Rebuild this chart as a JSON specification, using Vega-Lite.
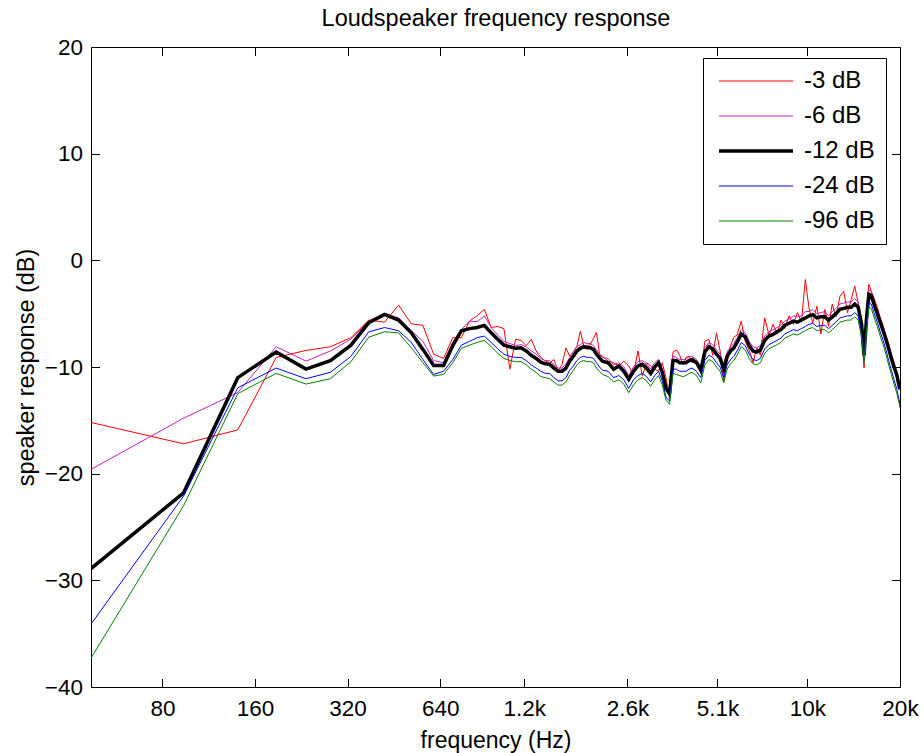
{
"$schema": "https://vega.github.io/schema/vega-lite/v6.json",
"autosize": "none",
"padding": {"left": 91, "top": 47, "right": 24, "bottom": 66},
"width": 809,
"height": 640,
"background": "white",
"config": {"view": {"stroke": null}, "font": "Liberation Sans", "axis": {"grid": false, "domainColor": "black", "domainWidth": 1, "tickColor": "black", "tickWidth": 1, "labelColor": "black", "titleColor": "black", "titleFontWeight": "normal", "labelFont": "Liberation Sans", "titleFont": "Liberation Sans"}},
"data": {"values": [
{"f":46.875,"n3":-15.2,"n6":-19.6,"n12":-28.9,"n24":-34.1,"n96":-37.3},
{"f":93.75,"n3":-17.2,"n6":-14.8,"n12":-21.8,"n24":-22.1,"n96":-23.0},
{"f":140.625,"n3":-15.9,"n6":-12.4,"n12":-11.0,"n24":-11.95,"n96":-12.5},
{"f":187.5,"n3":-9.1,"n6":-8.1,"n12":-8.6,"n24":-10.1,"n96":-10.6},
{"f":234.375,"n3":-8.45,"n6":-9.45,"n12":-10.2,"n24":-11.1,"n96":-11.6},
{"f":281.25,"n3":-8.1,"n6":-8.5,"n12":-9.4,"n24":-10.5,"n96":-11.1},
{"f":328.125,"n3":-7.25,"n6":-7.4,"n12":-7.95,"n24":-9.0,"n96":-9.5},
{"f":375,"n3":-5.6,"n6":-5.7,"n12":-5.85,"n24":-6.7,"n96":-7.2},
{"f":421.875,"n3":-5.8,"n6":-5.0,"n12":-5.07,"n24":-6.3,"n96":-6.7},
{"f":468.75,"n3":-4.2,"n6":-5.4,"n12":-5.6,"n24":-6.6,"n96":-6.8},
{"f":515.625,"n3":-5.95,"n6":-6.6,"n12":-6.8,"n24":-7.7,"n96":-8.2},
{"f":562.5,"n3":-6.1,"n6":-7.6,"n12":-8.35,"n24":-9.3,"n96":-9.6},
{"f":609.375,"n3":-8.8,"n6":-9.4,"n12":-9.85,"n24":-10.7,"n96":-10.85},
{"f":656.25,"n3":-9.2,"n6":-9.6,"n12":-9.85,"n24":-10.4,"n96":-10.7},
{"f":703.125,"n3":-7.25,"n6":-7.7,"n12":-8.0,"n24":-9.3,"n96":-9.6},
{"f":750,"n3":-7.25,"n6":-6.5,"n12":-6.6,"n24":-7.95,"n96":-8.25},
{"f":796.875,"n3":-5.7,"n6":-5.7,"n12":-6.4,"n24":-7.6,"n96":-7.95},
{"f":843.75,"n3":-5.2,"n6":-5.75,"n12":-6.3,"n24":-7.25,"n96":-7.7},
{"f":890.625,"n3":-4.6,"n6":-5.2,"n12":-6.1,"n24":-7.1,"n96":-7.5},
{"f":937.5,"n3":-6.3,"n6":-6.3,"n12":-6.8,"n24":-7.7,"n96":-8.1},
{"f":984.375,"n3":-6.2,"n6":-7.0,"n12":-7.4,"n24":-8.3,"n96":-8.7},
{"f":1031.25,"n3":-6.4,"n6":-7.6,"n12":-7.95,"n24":-8.8,"n96":-9.2},
{"f":1078.125,"n3":-10.2,"n6":-7.8,"n12":-8.1,"n24":-9.0,"n96":-9.4},
{"f":1125,"n3":-7.4,"n6":-8.0,"n12":-8.25,"n24":-9.1,"n96":-9.5},
{"f":1171.875,"n3":-7.5,"n6":-7.9,"n12":-8.2,"n24":-9.1,"n96":-9.5},
{"f":1218.75,"n3":-8.0,"n6":-8.1,"n12":-8.5,"n24":-9.4,"n96":-9.8},
{"f":1265.625,"n3":-7.4,"n6":-8.5,"n12":-8.9,"n24":-9.8,"n96":-10.2},
{"f":1312.5,"n3":-8.5,"n6":-8.8,"n12":-9.2,"n24":-10.1,"n96":-10.5},
{"f":1359.375,"n3":-9.1,"n6":-9.2,"n12":-9.55,"n24":-10.4,"n96":-10.9},
{"f":1406.25,"n3":-9.45,"n6":-9.4,"n12":-9.7,"n24":-10.6,"n96":-11.0},
{"f":1453.125,"n3":-9.6,"n6":-9.4,"n12":-9.75,"n24":-10.6,"n96":-11.1},
{"f":1500,"n3":-9.3,"n6":-9.8,"n12":-10.1,"n24":-11.0,"n96":-11.4},
{"f":1546.875,"n3":-10.4,"n6":-10.1,"n12":-10.4,"n24":-11.3,"n96":-11.7},
{"f":1593.75,"n3":-9.75,"n6":-10.1,"n12":-10.4,"n24":-11.3,"n96":-11.7},
{"f":1640.625,"n3":-8.2,"n6":-9.7,"n12":-10.1,"n24":-11.0,"n96":-11.4},
{"f":1687.5,"n3":-9.0,"n6":-9.1,"n12":-9.45,"n24":-10.3,"n96":-10.8},
{"f":1734.375,"n3":-8.6,"n6":-8.6,"n12":-9.0,"n24":-9.9,"n96":-10.3},
{"f":1781.25,"n3":-8.05,"n6":-8.1,"n12":-8.5,"n24":-9.4,"n96":-9.8},
{"f":1828.125,"n3":-6.65,"n6":-7.9,"n12":-8.25,"n24":-9.1,"n96":-9.5},
{"f":1875,"n3":-8.05,"n6":-7.7,"n12":-8.1,"n24":-9.0,"n96":-9.4},
{"f":1921.875,"n3":-8.0,"n6":-7.8,"n12":-8.2,"n24":-9.1,"n96":-9.5},
{"f":1968.75,"n3":-7.9,"n6":-7.8,"n12":-8.2,"n24":-9.1,"n96":-9.5},
{"f":2015.625,"n3":-7.3,"n6":-8.0,"n12":-8.35,"n24":-9.2,"n96":-9.6},
{"f":2062.5,"n3":-6.75,"n6":-8.4,"n12":-8.8,"n24":-9.6,"n96":-10.1},
{"f":2109.375,"n3":-8.8,"n6":-8.8,"n12":-9.15,"n24":-10.0,"n96":-10.4},
{"f":2156.25,"n3":-9.0,"n6":-9.1,"n12":-9.45,"n24":-10.3,"n96":-10.7},
{"f":2250,"n3":-9.45,"n6":-9.2,"n12":-9.6,"n24":-10.4,"n96":-10.9},
{"f":2343.75,"n3":-9.6,"n6":-9.8,"n12":-10.2,"n24":-11.0,"n96":-11.4},
{"f":2437.5,"n3":-9.9,"n6":-9.6,"n12":-9.9,"n24":-10.8,"n96":-11.2},
{"f":2531.25,"n3":-9.45,"n6":-10.0,"n12":-10.4,"n24":-11.2,"n96":-11.6},
{"f":2625,"n3":-9.9,"n6":-10.8,"n12":-11.15,"n24":-12.0,"n96":-12.4},
{"f":2718.75,"n3":-10.7,"n6":-10.0,"n12":-10.4,"n24":-11.2,"n96":-11.7},
{"f":2812.5,"n3":-8.5,"n6":-9.5,"n12":-9.9,"n24":-10.8,"n96":-11.2},
{"f":2906.25,"n3":-10.85,"n6":-9.4,"n12":-9.75,"n24":-10.6,"n96":-11.0},
{"f":3000,"n3":-9.6,"n6":-9.7,"n12":-10.1,"n24":-10.9,"n96":-11.3},
{"f":3093.75,"n3":-9.9,"n6":-10.2,"n12":-10.6,"n24":-11.4,"n96":-11.8},
{"f":3187.5,"n3":-10.2,"n6":-9.6,"n12":-10.0,"n24":-10.8,"n96":-11.2},
{"f":3281.25,"n3":-10.4,"n6":-9.3,"n12":-9.6,"n24":-10.4,"n96":-10.8},
{"f":3375,"n3":-9.6,"n6":-10.2,"n12":-10.5,"n24":-11.3,"n96":-11.7},
{"f":3468.75,"n3":-11.0,"n6":-11.7,"n12":-12.0,"n24":-12.8,"n96":-13.1},
{"f":3562.5,"n3":-12.9,"n6":-12.3,"n12":-12.5,"n24":-13.2,"n96":-13.5},
{"f":3656.25,"n3":-8.6,"n6":-9.0,"n12":-9.4,"n24":-10.2,"n96":-10.6},
{"f":3750,"n3":-8.4,"n6":-9.1,"n12":-9.4,"n24":-10.2,"n96":-10.7},
{"f":3843.75,"n3":-8.9,"n6":-9.3,"n12":-9.6,"n24":-10.4,"n96":-10.8},
{"f":3937.5,"n3":-9.8,"n6":-9.3,"n12":-9.6,"n24":-10.4,"n96":-10.9},
{"f":4031.25,"n3":-9.1,"n6":-9.3,"n12":-9.6,"n24":-10.4,"n96":-10.8},
{"f":4125,"n3":-9.0,"n6":-9.0,"n12":-9.4,"n24":-10.2,"n96":-10.6},
{"f":4218.75,"n3":-9.6,"n6":-9.0,"n12":-9.3,"n24":-10.1,"n96":-10.5},
{"f":4359.375,"n3":-9.4,"n6":-9.3,"n12":-9.6,"n24":-10.4,"n96":-10.8},
{"f":4500,"n3":-10.6,"n6":-10.0,"n12":-10.3,"n24":-11.0,"n96":-11.5},
{"f":4640.625,"n3":-7.6,"n6":-8.2,"n12":-8.6,"n24":-9.4,"n96":-9.8},
{"f":4781.25,"n3":-7.4,"n6":-7.7,"n12":-8.1,"n24":-8.9,"n96":-9.3},
{"f":4921.875,"n3":-8.9,"n6":-7.9,"n12":-8.3,"n24":-9.1,"n96":-9.5},
{"f":5062.5,"n3":-6.8,"n6":-8.4,"n12":-8.8,"n24":-9.6,"n96":-10.0},
{"f":5203.125,"n3":-8.5,"n6":-8.8,"n12":-9.2,"n24":-10.0,"n96":-10.4},
{"f":5343.75,"n3":-11.3,"n6":-9.8,"n12":-10.2,"n24":-11.0,"n96":-11.5},
{"f":5484.375,"n3":-9.5,"n6":-8.6,"n12":-9.0,"n24":-9.8,"n96":-10.2},
{"f":5625,"n3":-8.0,"n6":-8.1,"n12":-8.5,"n24":-9.3,"n96":-9.7},
{"f":5765.625,"n3":-7.2,"n6":-7.8,"n12":-8.2,"n24":-9.0,"n96":-9.4},
{"f":5906.25,"n3":-7.0,"n6":-7.3,"n12":-7.7,"n24":-8.5,"n96":-8.9},
{"f":6093.75,"n3":-5.7,"n6":-6.5,"n12":-6.9,"n24":-7.7,"n96":-8.1},
{"f":6281.25,"n3":-7.6,"n6":-6.8,"n12":-7.2,"n24":-8.0,"n96":-8.4},
{"f":6468.75,"n3":-8.4,"n6":-7.6,"n12":-8.0,"n24":-8.8,"n96":-9.2},
{"f":6656.25,"n3":-9.6,"n6":-8.1,"n12":-8.5,"n24":-9.3,"n96":-9.7},
{"f":6843.75,"n3":-8.2,"n6":-8.2,"n12":-8.6,"n24":-9.4,"n96":-9.8},
{"f":7031.25,"n3":-8.9,"n6":-8.0,"n12":-8.4,"n24":-9.2,"n96":-9.6},
{"f":7265.625,"n3":-5.4,"n6":-7.1,"n12":-7.5,"n24":-8.3,"n96":-8.7},
{"f":7500,"n3":-7.0,"n6":-6.7,"n12":-7.1,"n24":-7.9,"n96":-8.3},
{"f":7734.375,"n3":-6.0,"n6":-6.5,"n12":-6.95,"n24":-7.7,"n96":-8.1},
{"f":7968.75,"n3":-6.9,"n6":-6.3,"n12":-6.7,"n24":-7.5,"n96":-7.9},
{"f":8203.125,"n3":-5.6,"n6":-6.1,"n12":-6.5,"n24":-7.3,"n96":-7.7},
{"f":8437.5,"n3":-6.4,"n6":-5.7,"n12":-6.1,"n24":-6.9,"n96":-7.3},
{"f":8718.75,"n3":-5.2,"n6":-5.5,"n12":-5.9,"n24":-6.7,"n96":-7.1},
{"f":9000,"n3":-6.0,"n6":-5.2,"n12":-5.7,"n24":-6.5,"n96":-6.9},
{"f":9281.25,"n3":-4.9,"n6":-5.3,"n12":-5.8,"n24":-6.6,"n96":-7.0},
{"f":9562.5,"n3":-5.8,"n6":-5.2,"n12":-5.6,"n24":-6.4,"n96":-6.8},
{"f":9843.75,"n3":-1.8,"n6":-4.8,"n12":-5.4,"n24":-6.2,"n96":-6.6},
{"f":10125,"n3":-4.5,"n6":-4.8,"n12":-5.2,"n24":-6.0,"n96":-6.4},
{"f":10406.25,"n3":-5.9,"n6":-4.6,"n12":-5.1,"n24":-5.9,"n96":-6.3},
{"f":10734.375,"n3":-4.3,"n6":-5.0,"n12":-5.4,"n24":-6.2,"n96":-6.6},
{"f":11062.5,"n3":-6.9,"n6":-4.9,"n12":-5.3,"n24":-6.1,"n96":-6.5},
{"f":11390.625,"n3":-4.6,"n6":-4.8,"n12":-5.3,"n24":-6.1,"n96":-6.5},
{"f":11718.75,"n3":-6.2,"n6":-5.2,"n12":-5.6,"n24":-6.4,"n96":-6.8},
{"f":12046.875,"n3":-4.1,"n6":-4.8,"n12":-5.3,"n24":-6.1,"n96":-6.5},
{"f":12375,"n3":-5.3,"n6":-4.5,"n12":-5.0,"n24":-5.8,"n96":-6.2},
{"f":12750,"n3":-3.4,"n6":-4.1,"n12":-4.6,"n24":-5.4,"n96":-5.8},
{"f":13125,"n3":-2.9,"n6":-4.0,"n12":-4.5,"n24":-5.3,"n96":-5.7},
{"f":13500,"n3":-4.9,"n6":-3.9,"n12":-4.4,"n24":-5.2,"n96":-5.6},
{"f":13875,"n3":-3.7,"n6":-3.9,"n12":-4.4,"n24":-5.2,"n96":-5.6},
{"f":14250,"n3":-2.4,"n6":-3.6,"n12":-4.1,"n24":-4.9,"n96":-5.3},
{"f":14625,"n3":-4.0,"n6":-3.9,"n12":-4.4,"n24":-5.2,"n96":-5.6},
{"f":15000,"n3":-6.8,"n6":-5.6,"n12":-6.0,"n24":-6.8,"n96":-7.2},
{"f":15281.25,"n3":-10.1,"n6":-9.2,"n12":-8.9,"n24":-9.3,"n96":-9.6},
{"f":15562.5,"n3":-4.5,"n6":-5.2,"n12":-5.5,"n24":-6.2,"n96":-6.6},
{"f":15843.75,"n3":-2.25,"n6":-2.8,"n12":-3.2,"n24":-4.0,"n96":-4.4},
{"f":16125,"n3":-2.9,"n6":-2.9,"n12":-3.3,"n24":-4.1,"n96":-4.5},
{"f":16500,"n3":-3.6,"n6":-3.8,"n12":-4.2,"n24":-5.0,"n96":-5.4},
{"f":16875,"n3":-4.4,"n6":-4.6,"n12":-5.0,"n24":-5.8,"n96":-6.2},
{"f":17250,"n3":-5.4,"n6":-5.4,"n12":-5.8,"n24":-6.7,"n96":-7.1},
{"f":17625,"n3":-6.1,"n6":-6.2,"n12":-6.6,"n24":-7.5,"n96":-7.9},
{"f":18000,"n3":-7.1,"n6":-7.0,"n12":-7.4,"n24":-8.4,"n96":-8.8},
{"f":18375,"n3":-7.8,"n6":-7.9,"n12":-8.3,"n24":-9.4,"n96":-9.8},
{"f":18750,"n3":-8.9,"n6":-8.8,"n12":-9.2,"n24":-10.3,"n96":-10.7},
{"f":19125,"n3":-9.6,"n6":-9.6,"n12":-10.0,"n24":-11.2,"n96":-11.6},
{"f":19500,"n3":-10.4,"n6":-10.4,"n12":-10.7,"n24":-12.0,"n96":-12.4},
{"f":19875,"n3":-11.5,"n6":-11.5,"n12":-11.8,"n24":-13.1,"n96":-13.4},
{"f":19968.75,"n3":-12.0,"n6":-11.9,"n12":-12.1,"n24":-13.5,"n96":-13.8}
]},
"transform": [{"fold": ["n3", "n6", "n12", "n24", "n96"], "as": ["s", "v"]}],
"layer": [
{
"mark": {"type": "line", "clip": true},
"encoding": {
"x": {"field": "f", "type": "quantitative", "scale": {"type": "log", "domain": [46.875, 20000], "nice": false},
"axis": {"orient": "bottom", "values": [80, 160, 320, 640, 1200, 2600, 5100, 10000, 20000], "labelExpr": "datum.value < 1000 ? '' + datum.value : (datum.value / 1000) + 'k'", "title": "frequency (Hz)", "tickSize": -8.5, "labelPadding": 19, "labelFontSize": 22.5, "labelFlush": false, "labelOverlap": false, "titleFontSize": 23, "titleX": 404.5, "titleY": 60, "titleBaseline": "alphabetic", "titleAlign": "center"}},
"y": {"field": "v", "type": "quantitative", "scale": {"domain": [-40, 20], "nice": false, "zero": false},
"axis": {"orient": "left", "values": [-40, -30, -20, -10, 0, 10, 20], "title": "speaker response (dB)", "tickSize": -8.5, "labelPadding": 17, "labelFontSize": 22.5, "labelFlush": false, "labelOverlap": false, "titleFontSize": 23.5, "titleX": -58, "titleY": 320, "titleAngle": -90, "titleBaseline": "alphabetic", "titleAlign": "center"}},
"color": {"field": "s", "type": "nominal", "scale": {"domain": ["n3", "n6", "n12", "n24", "n96"], "range": ["#ff0000", "#c020c0", "#000000", "#0000ff", "#008000"]},
"legend": {"title": null, "orient": "none", "legendX": 612, "legendY": 11, "padding": 11, "strokeColor": "black", "fillColor": "white", "symbolType": "M-3.7,0H3.7", "symbolSize": 400, "symbolOffset": 30, "rowPadding": 11, "labelFontSize": 24, "labelOffset": 36, "labelColor": "black", "labelFont": "Liberation Sans", "labelExpr": "'-' + slice(datum.label, 1) + ' dB'",
"encode": {"symbols": {"update": {"strokeWidth": {"signal": "datum.value === 'n12' ? 3.5 : 1"}}}}}},
"strokeWidth": {"condition": {"test": "datum.s === 'n12'", "value": 3.5}, "value": 1}
}
},
{
"mark": {"type": "point", "opacity": 0},
"encoding": {
"x": {"field": "f", "type": "quantitative", "axis": {"orient": "top", "values": [80, 160, 320, 640, 1200, 2600, 5100, 10000, 20000], "labels": false, "title": "Loudspeaker frequency response", "titleFontSize": 23.5, "titleX": 404.5, "titleY": -22, "titleBaseline": "alphabetic", "titleAlign": "center", "tickSize": -8.5}},
"y": {"field": "v", "type": "quantitative", "axis": {"orient": "right", "values": [-40, -30, -20, -10, 0, 10, 20], "labels": false, "title": null, "tickSize": -8.5}}
}
}
],
"resolve": {"axis": {"x": "independent", "y": "independent"}}
}
